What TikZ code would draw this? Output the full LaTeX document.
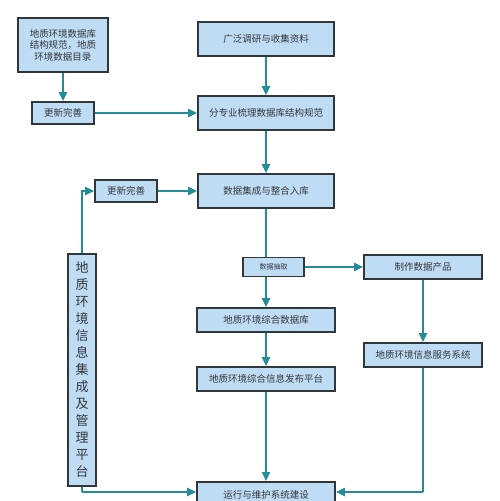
\documentclass[tikz,border=0pt]{standalone}
\usepackage{fontspec}
\setmainfont{Noto Sans CJK SC}
\usetikzlibrary{arrows.meta}
\definecolor{boxfill}{RGB}{190,220,244}
\definecolor{boxline}{RGB}{50,55,60}
\definecolor{conn}{RGB}{35,140,152}
\definecolor{txt}{RGB}{55,55,60}
\tikzset{
  box/.style={draw=boxline, line width=1.7pt, fill=boxfill, text=txt, inner sep=0pt, font=\fontsize{9.5}{11.5}\selectfont, align=center},
  conline/.style={draw=conn, line width=1.9pt},
  arr/.style={conline, -{Triangle[length=9pt,width=8pt]}}
}
\begin{document}
\begin{tikzpicture}[x=1pt,y=-1pt]
\useasboundingbox (0,0) rectangle (500,501);
\fill[white] (0,0) rectangle (500,501);
% boxes
\node[box, minimum width=90pt, minimum height=54pt] (spec) at (63,45) {地质环境数据库\\结构规范，地质\\环境数据目录};
\node[box, minimum width=62pt, minimum height=22pt] (upd1) at (63,113) {更新完善};
\node[box, minimum width=136pt, minimum height=34pt] (survey) at (266,39) {广泛调研与收集资料};
\node[box, minimum width=136pt, minimum height=34pt] (sort) at (266,113) {分专业梳理数据库结构规范};
\node[box, minimum width=62pt, minimum height=22pt] (upd2) at (126,191) {更新完善};
\node[box, minimum width=136pt, minimum height=34pt] (integ) at (266,191) {数据集成与整合入库};
\node[box, minimum width=138pt, minimum height=24pt] (db) at (266,320) {地质环境综合数据库};
\node[box, minimum width=138pt, minimum height=24pt] (pub) at (266,379) {地质环境综合信息发布平台};
\node[box, minimum width=118pt, minimum height=24pt] (prod) at (423,267) {制作数据产品};
\node[box, minimum width=118pt, minimum height=24pt] (serv) at (423,355) {地质环境信息服务系统};
\node[box, minimum width=138pt, minimum height=26pt, anchor=north] (ops) at (266,481) {运行与维护系统建设};
\node[box, minimum width=28pt, minimum height=232pt, font=\fontsize{13}{17}\selectfont] (plat) at (82,370) {地\\质\\环\\境\\信\\息\\集\\成\\及\\管\\理\\平\\台};
% connectors
\draw[arr] (spec.south) -- (upd1.north);
\draw[arr] (upd1.east) -- (sort.west);
\draw[arr] (survey.south) -- (sort.north);
\draw[arr] (sort.south) -- (integ.north);
\draw[arr] (upd2.east) -- (integ.west);
\draw[arr] (plat.north) |- (upd2.west);
\draw[arr] (integ.south) -- (db.north);
\node[box, minimum width=61pt, minimum height=19pt, font=\fontsize{7}{8}\selectfont] (extr) at (273.5,267) {数据抽取};
\draw[arr] (extr.east) -- (prod.west);
\draw[arr] (prod.south) -- (serv.north);
\draw[arr] (db.south) -- (pub.north);
\draw[arr] (pub.south) -- (ops.north);
\coordinate (c1) at (423,492);
\coordinate (c2) at (82,492);
\draw[conline] (serv.south) -- (c1);
\draw[arr] (c1) -- (ops.east |- c1);
\draw[conline] (plat.south) -- (c2);
\draw[arr] (c2) -- (ops.west |- c2);
\end{tikzpicture}
\end{document}
